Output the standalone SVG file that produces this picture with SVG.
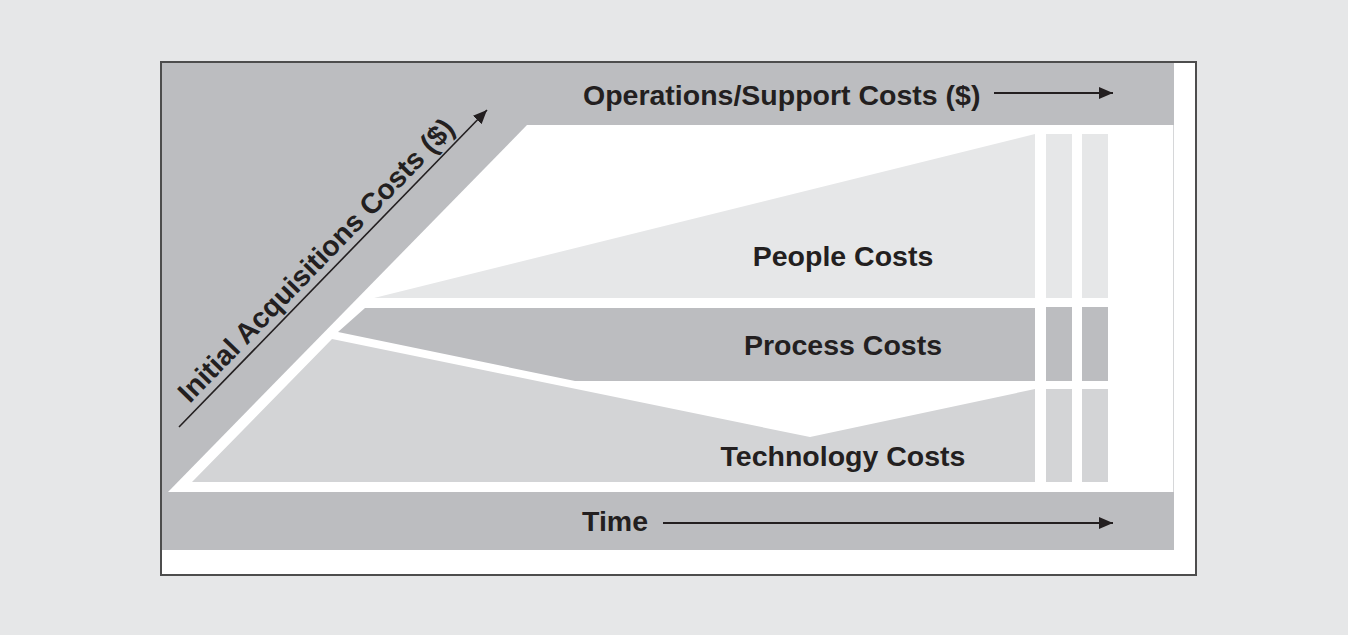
<svg xmlns="http://www.w3.org/2000/svg" width="1348" height="635" viewBox="0 0 1348 635">
  <style>
    .lbl { font-family: "Liberation Sans", Arial, sans-serif; font-weight: bold; font-size: 28.5px; fill: #231f20; }
    .mid { fill: #bcbdc0; }
    .pale { fill: #e6e7e8; }
    .soft { fill: #d3d4d6; }
    .axis { stroke: #231f20; fill: none; }
  </style>
  <defs>
    <marker id="head" markerUnits="userSpaceOnUse" markerWidth="16" markerHeight="14" refX="14" refY="6" orient="auto">
      <path d="M0,0 L14,6 L0,12 z" fill="#231f20"/>
    </marker>
  </defs>

  <!-- page background -->
  <rect x="0" y="0" width="1348" height="635" fill="#e6e7e8"/>

  <!-- framed panel -->
  <g id="frame">
    <rect x="161" y="62" width="1035" height="513" fill="#ffffff" stroke="#4d4d4d" stroke-width="2"/>
    <rect x="162" y="63" width="1012" height="487" class="mid"/>
    <polygon points="527,125 1174,125 1174,492 168,492" fill="#ffffff"/>
    <line x1="1173.5" y1="125" x2="1173.5" y2="492" stroke="#d6d7d9" stroke-width="1"/>
  </g>

  <!-- cost bands -->
  <g id="people">
    <polygon points="374,298 1035,134 1035,298" class="pale"/>
    <rect x="1046" y="134" width="26" height="164" class="pale"/>
    <rect x="1082" y="134" width="26" height="164" class="pale"/>
    <text class="lbl" x="843" y="266" text-anchor="middle">People Costs</text>
  </g>

  <g id="process">
    <polygon points="365,308 1035,308 1035,381 575,381 338,332" class="mid"/>
    <rect x="1046" y="307" width="26" height="74" class="mid"/>
    <rect x="1082" y="307" width="26" height="74" class="mid"/>
    <text class="lbl" x="843" y="355" text-anchor="middle">Process Costs</text>
  </g>

  <g id="technology">
    <polygon points="332,339 810,437 1035,389 1035,482 192,482" class="soft"/>
    <rect x="1046" y="389" width="26" height="93" class="soft"/>
    <rect x="1082" y="389" width="26" height="93" class="soft"/>
    <text class="lbl" x="843" y="466" text-anchor="middle">Technology Costs</text>
  </g>

  <!-- axis labels -->
  <g id="operations-axis">
    <text class="lbl" x="583" y="104.5">Operations/Support Costs ($)</text>
  </g>
  <g id="time-axis">
    <text class="lbl" x="582" y="531">Time</text>
  </g>
  <g id="acquisition-axis">
    <text class="lbl" transform="translate(323,267) rotate(-45.8)" text-anchor="middle">Initial Acquisitions Costs ($)</text>
  </g>

  <!-- axis arrows -->
  <g id="connectors">
    <line class="axis" x1="994" y1="93" x2="1113" y2="93" stroke-width="2" marker-end="url(#head)"/>
    <line class="axis" x1="663" y1="523" x2="1113" y2="523" stroke-width="2" marker-end="url(#head)"/>
    <line class="axis" x1="179" y1="427" x2="487" y2="110" stroke-width="1.6" marker-end="url(#head)"/>
  </g>
</svg>
